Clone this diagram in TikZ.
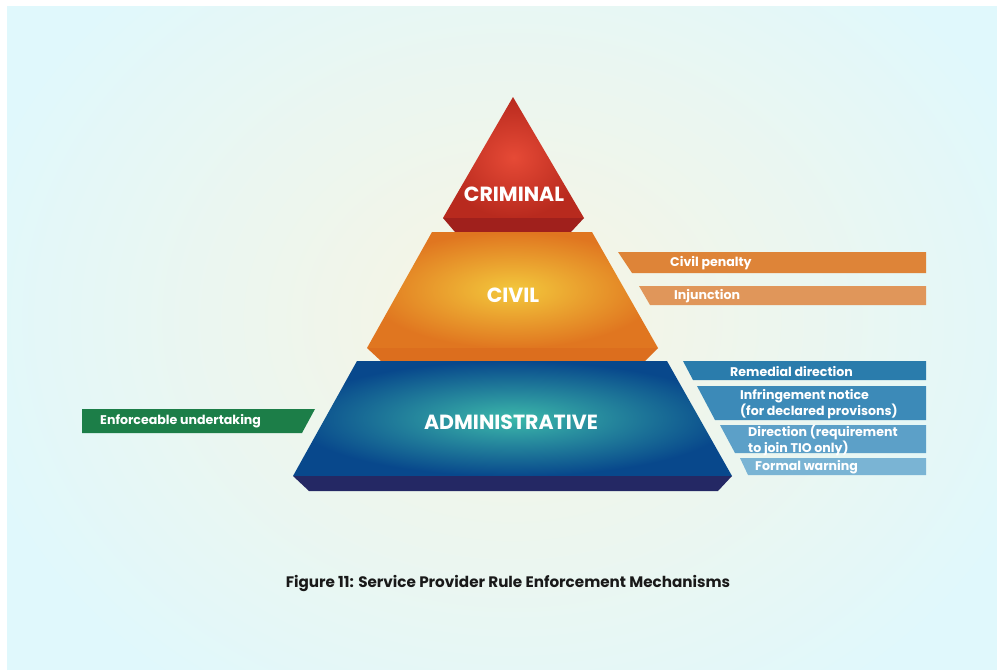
\documentclass[tikz,border=0pt]{standalone}
\usepackage{fontspec}
\setmainfont{Poppins}
\definecolor{bg}{HTML}{E0F8FC}
\definecolor{glow}{RGB}{248,244,226}
\definecolor{crIn}{RGB}{230,74,54}
\definecolor{crOut}{RGB}{184,42,30}
\definecolor{crBe}{RGB}{160,32,28}
\definecolor{crBm}{RGB}{234,74,60}
\definecolor{cvIn}{RGB}{243,200,60}
\definecolor{cvOut}{RGB}{224,118,32}
\definecolor{cvBe}{RGB}{220,110,30}
\definecolor{cvBm}{RGB}{246,210,64}
\definecolor{adIn}{RGB}{60,184,170}
\definecolor{adOut}{RGB}{8,72,140}
\definecolor{adBe}{RGB}{36,40,100}
\definecolor{adBm}{RGB}{100,222,196}
\definecolor{cpE}{RGB}{222,132,56}
\definecolor{cpM}{RGB}{234,170,82}
\definecolor{inE}{RGB}{224,150,90}
\definecolor{inM}{RGB}{240,212,114}
\definecolor{bA}{RGB}{42,124,172}
\definecolor{bB}{RGB}{60,138,184}
\definecolor{bC}{RGB}{92,160,200}
\definecolor{bD}{RGB}{122,180,212}
\definecolor{gE}{RGB}{28,126,72}
\definecolor{gM}{RGB}{96,176,90}
\begin{document}
\begin{tikzpicture}[x=1pt,y=-1pt,
  lvl/.style={text=white,font=\bfseries\fontsize{20.5}{22}\selectfont},
  lab/.style={text=white,font=\bfseries\fontsize{12.6}{14.5}\selectfont,anchor=west,align=left,inner sep=0pt},
  captxt/.style={text=black!90,font=\bfseries\fontsize{15.2}{17}\selectfont}]
\useasboundingbox (0,0) rectangle (997,670);
\fill[white] (0,0) rectangle (997,670);
\fill[bg] (7,6) rectangle (997,670);
\begin{scope}
\clip (7,6) rectangle (997,670);
\shade[inner color=glow, outer color=bg] (512,320) ellipse (560 and 460);
\end{scope}
% ---------- CRIMINAL ----------
\shade[inner color=crIn, outer color=crOut]
  (513,97) -- (584,218) -- (443,218) -- cycle;
\shade[left color=crBe, middle color=crBm, right color=crBe]
  (443,218) -- (584,218) -- (571,232) -- (455,232) -- cycle;
% ---------- CIVIL ----------
\shade[inner color=cvIn, outer color=cvOut]
  (432,232) -- (592,232) -- (658,348) -- (367,348) -- cycle;
\shade[left color=cvBe, middle color=cvBm, right color=cvBe]
  (367,348) -- (658,348) -- (645,361) -- (381,361) -- cycle;
% ---------- ADMINISTRATIVE ----------
\shade[inner color=adIn, outer color=adOut]
  (357,361) -- (667,361) -- (732,476) -- (293,476) -- cycle;
\shade[left color=adBe, middle color=adBm, right color=adBe]
  (293,476) -- (732,476) -- (718,491) -- (309,491) -- cycle;
\node[lvl] (crim) at (514,194) {CRIMINAL};
\node[lvl] (civ) at (513,295) {CIVIL};
\node[lvl] (adm) at (511,422) {ADMINISTRATIVE};
% ---------- civil bars ----------
\shade[left color=cpE, middle color=cpM, right color=cpE]
  (618,252) -- (926,252) -- (926,273) -- (632,273) -- cycle;
\shade[left color=inE, middle color=inM, right color=inE]
  (639,286) -- (926,286) -- (926,305) -- (650,305) -- cycle;
\node[lab] (cp) at (670,263) {Civil penalty};
\node[lab] (inj) at (674,296) {Injunction};
% ---------- admin bars ----------
\fill[bA] (683,361) -- (926,361) -- (926,380) -- (693,380) -- cycle;
\fill[bB] (697,386) -- (926,386) -- (926,420) -- (715,420) -- cycle;
\fill[bC] (720,425) -- (926,425) -- (926,453) -- (735,453) -- cycle;
\fill[bD] (740,458) -- (926,458) -- (926,475) -- (748,475) -- cycle;
\node[lab] (rem) at (730,371) {Remedial direction};
\node[lab] (inf) at (740,404) {Infringement notice\\(for declared provisons)};
\node[lab] (dir) at (748,440) {Direction (requirement\\to join TIO only)};
\node[lab] (fw) at (755,467) {Formal warning};
% ---------- enforceable undertaking ----------
\shade[left color=gE, middle color=gM, right color=gE]
  (82,409) -- (315,409) -- (302,433) -- (82,433) -- cycle;
\node[lab] (eu) at (100,421) {Enforceable undertaking};
% ---------- caption ----------
\node[captxt] (capt) at (508,583) {Figure 11: Service Provider Rule Enforcement Mechanisms};
\end{tikzpicture}
\end{document}
